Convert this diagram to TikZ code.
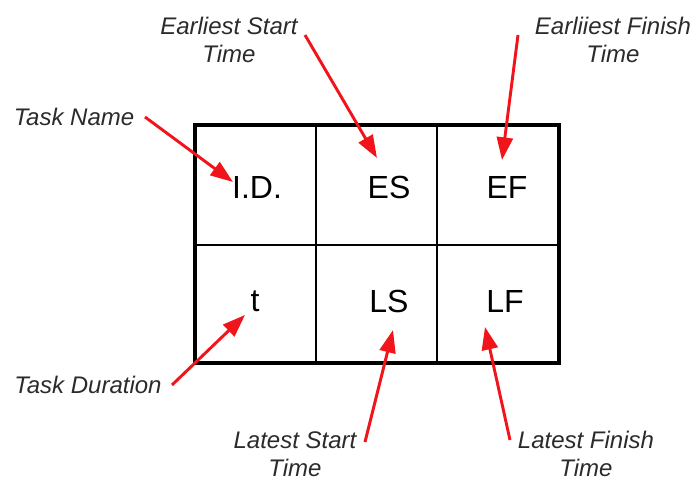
\documentclass[tikz,border=0pt]{standalone}
\usepackage{fontspec}
\setmainfont{Liberation Sans}
\usepackage{tikz}
\usetikzlibrary{arrows.meta}
\definecolor{labelgray}{HTML}{2B2B2B}
\definecolor{ptrred}{HTML}{F2141B}
\tikzset{
  cell/.style={font=\fontsize{24}{27}\selectfont, inner sep=0pt},
  tag/.style={font=\fontsize{18}{21}\selectfont\itshape, text=labelgray, align=center, inner sep=0pt},
  pointer/.style={draw=ptrred, line width=2.2pt, -{Triangle[length=17pt,width=12pt]}}
}
\begin{document}
\begin{tikzpicture}[x=0.75pt, y=-0.75pt]
  \useasboundingbox (0,0) rectangle (697,482);
  % grid
  \draw[line width=1.1pt] (316,125)--(316,363) (437,125)--(437,363) (195,245)--(559,245);
  \draw[line width=2.3pt] (195,125) rectangle (559,363);
  % cells
  \node[cell] (id) at (257,187) {I.D.};
  \node[cell] (es) at (389,187) {ES};
  \node[cell] (ef) at (507,187) {EF};
  \node[cell] (dur) at (255,301) {t};
  \node[cell] (ls) at (389,301) {LS};
  \node[cell] (lf) at (505,301) {LF};
  % labels
  \node[tag] (tname) at (74,117) {Task Name};
  \node[tag] (est) at (229,40) {Earliest Start\\Time};
  \node[tag] (eft) at (613,40) {Earliiest Finish\\Time};
  \node[tag] (tdur) at (88,385) {Task Duration};
  \node[tag] (lst) at (295,454) {Latest Start\\Time};
  \node[tag] (lft) at (586,454) {Latest Finish\\Time};
  % tails and tips
  \coordinate (tnA) at (145,117); \coordinate (tnB) at (233,182);
  \coordinate (esA) at (305,35);  \coordinate (esB) at (377,158);
  \coordinate (efA) at (518,35);  \coordinate (efB) at (502,160);
  \coordinate (tdA) at (172,385); \coordinate (tdB) at (245,315);
  \coordinate (lsA) at (365,442); \coordinate (lsB) at (393,330);
  \coordinate (lfA) at (510,440); \coordinate (lfB) at (485,327);
  \draw[pointer] (tnA) -- (tnB);
  \draw[pointer] (esA) -- (esB);
  \draw[pointer] (efA) -- (efB);
  \draw[pointer] (tdA) -- (tdB);
  \draw[pointer] (lsA) -- (lsB);
  \draw[pointer] (lfA) -- (lfB);
\end{tikzpicture}
\end{document}
